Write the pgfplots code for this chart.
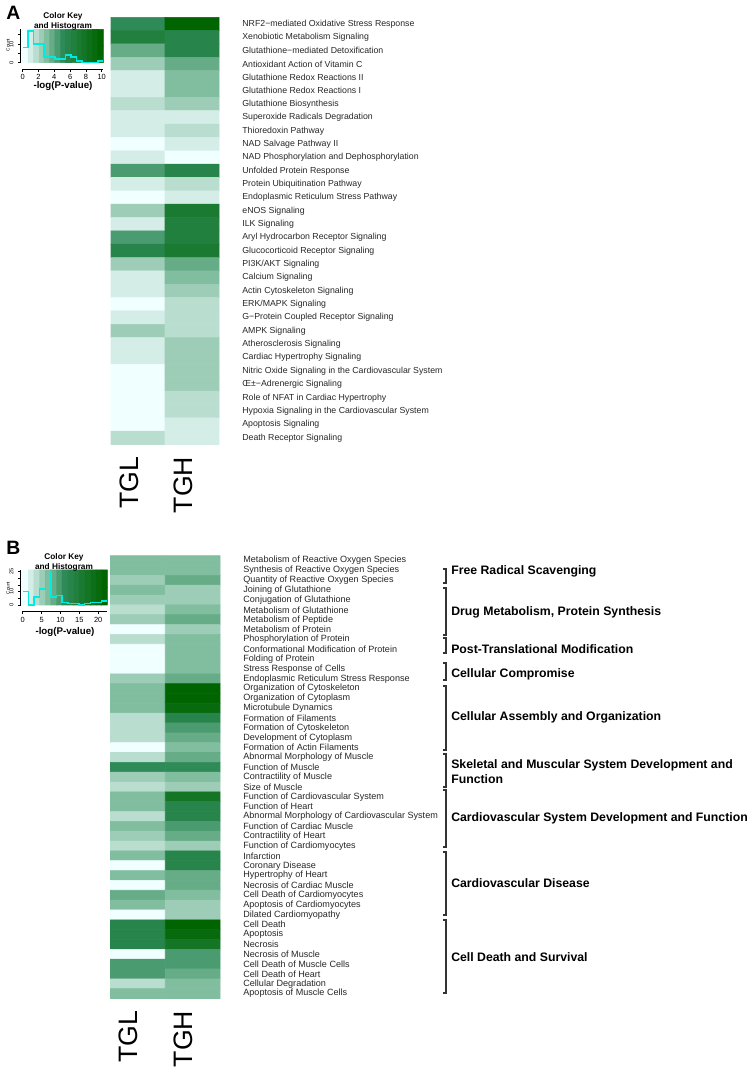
\documentclass[border=0pt]{standalone}
\usepackage{pgfplots}
\pgfplotsset{compat=1.18}
\usepackage{fontspec}
\setmainfont{Liberation Sans}
\definecolor{trace}{RGB}{0,236,226}
\pgfplotsset{
  colormap={ipa}{rgb255=(240,255,255) rgb255=(212,238,231) rgb255=(185,222,207) rgb255=(157,205,183) rgb255=(129,189,159) rgb255=(101,172,135) rgb255=(74,155,111) rgb255=(46,139,87) rgb255=(39,133,75) rgb255=(33,128,62) rgb255=(26,122,50) rgb255=(20,117,37) rgb255=(13,111,25) rgb255=(7,106,12) rgb255=(0,100,0)},
  heat/.style={matrix plot*, point meta=explicit, colormap name=ipa, colormap access=direct},
  keyax/.style={scale only axis, axis x line*=bottom, axis y line*=left,
    /pgf/number format/assume math mode=true,
    axis line style={line width=0.4pt,-}, tick align=outside, major tick length=2pt,
    tick style={line width=0.4pt,black},
    tick label style={font=\fontsize{5.6}{6}\selectfont},
    xticklabel style={yshift=1.2pt},
    yticklabel style={rotate=90, anchor=south, font=\fontsize{4.2}{5}\selectfont},
    clip=false},
  hmax/.style={scale only axis, y dir=reverse, axis line style={draw=none},
    major tick length=0pt, xtick=\empty, yticklabel pos=right, clip=false,
    yticklabel style={anchor=west, xshift=14pt, text=black!85}},
}
\begin{document}
\begin{tikzpicture}[x=0.75pt,y=0.75pt]
\path[use as bounding box] (0,0) rectangle (750,1068);
\tikzset{grp/.style={anchor=west, inner sep=0pt, font=\bfseries\fontsize{9.2}{11.25}\selectfont},
  col/.style={rotate=90, anchor=base east, inner sep=0pt, font=\fontsize{20}{20}\selectfont}}
% ---------- Panel A heatmap
\begin{axis}[hmax, at={(83.25pt,788.03pt)}, anchor=north west, width=81pt, height=320.4pt,
  xmin=-0.5, xmax=1.5, ymin=0.5, ymax=32.5, ytick={1,...,32},
  yticklabel style={font=\fontsize{6.57}{7}\selectfont},
  yticklabels={{NRF2−mediated Oxidative Stress Response},{Xenobiotic Metabolism Signaling},{Glutathione−mediated Detoxification},{Antioxidant Action of Vitamin C},{Glutathione Redox Reactions II},{Glutathione Redox Reactions I},{Glutathione Biosynthesis},{Superoxide Radicals Degradation},{Thioredoxin Pathway},{NAD Salvage Pathway II},{NAD Phosphorylation and Dephosphorylation},{Unfolded Protein Response},{Protein Ubiquitination Pathway},{Endoplasmic Reticulum Stress Pathway},{eNOS Signaling},{ILK Signaling},{Aryl Hydrocarbon Receptor Signaling},{Glucocorticoid Receptor Signaling},{PI3K/AKT Signaling},{Calcium Signaling},{Actin Cytoskeleton Signaling},{ERK/MAPK Signaling},{G−Protein Coupled Receptor Signaling},{AMPK Signaling},{Atherosclerosis Signaling},{Cardiac Hypertrophy Signaling},{Nitric Oxide Signaling in the Cardiovascular System},{Œ±−Adrenergic Signaling},{Role of NFAT in Cardiac Hypertrophy},{Hypoxia Signaling in the Cardiovascular System},{Apoptosis Signaling},{Death Receptor Signaling}}]
\addplot[heat, mesh/cols=2] table[meta=c] {
x y c
0 1 7
1 1 14
0 2 9
1 2 8
0 3 5
1 3 8
0 4 3
1 4 5
0 5 1
1 5 4
0 6 1
1 6 4
0 7 2
1 7 3
0 8 1
1 8 1
0 9 1
1 9 2
0 10 0
1 10 1
0 11 1
1 11 0
0 12 6
1 12 8
0 13 1
1 13 2
0 14 0
1 14 1
0 15 3
1 15 10
0 16 1
1 16 9
0 17 6
1 17 9
0 18 8
1 18 10
0 19 3
1 19 5
0 20 1
1 20 4
0 21 1
1 21 3
0 22 0
1 22 2
0 23 1
1 23 2
0 24 3
1 24 2
0 25 1
1 25 3
0 26 1
1 26 3
0 27 0
1 27 3
0 28 0
1 28 3
0 29 0
1 29 2
0 30 0
1 30 2
0 31 0
1 31 1
0 32 2
1 32 1
};
\node[col] at ([yshift=-9pt]axis cs:0,32.5) {TGL};
\node[col] at ([yshift=-9pt]axis cs:1,32.5) {TGH};
\end{axis}
% ---------- Panel A key
\begin{axis}[keyax, at={(17.03pt,779.03pt)}, anchor=north west, width=60.45pt, height=25.05pt,
  xmin=0, xmax=10.2, ymin=0, ymax=17.9, axis x line shift=4.7pt, axis y line shift=1.5pt,
  xtick={0,2,...,10}, ytick={0,5,10,15}, yticklabels={0,,10,}]
\addplot[heat, mesh/cols=15] table[meta=c] {
x y c
0.34 4.475 0
1.02 4.475 1
1.70 4.475 2
2.38 4.475 3
3.06 4.475 4
3.74 4.475 5
4.42 4.475 6
5.10 4.475 7
5.78 4.475 8
6.46 4.475 9
7.14 4.475 10
7.82 4.475 11
8.50 4.475 12
9.18 4.475 13
9.86 4.475 14
0.34 13.425 0
1.02 13.425 1
1.70 13.425 2
2.38 13.425 3
3.06 13.425 4
3.74 13.425 5
4.42 13.425 6
5.10 13.425 7
5.78 13.425 8
6.46 13.425 9
7.14 13.425 10
7.82 13.425 11
8.50 13.425 12
9.18 13.425 13
9.86 13.425 14
};
\addplot[const plot, color=trace, line width=1.1pt] coordinates {(0,8)(0.68,17)(1.36,10)(2.04,10)(2.72,3)(3.4,3)(4.08,2)(4.76,2)(5.44,4)(6.12,3)(6.8,1)(7.48,0)(8.16,0)(8.84,0)(9.52,1)(10.2,1)};
\end{axis}
\node[font=\bfseries\fontsize{6.2}{7}\selectfont] at (63,{1068-16}) {Color Key};
\node[font=\bfseries\fontsize{6.2}{7}\selectfont] at (63,{1068-26}) {and Histogram};
\node[font=\bfseries\fontsize{7.3}{8}\selectfont] at (63,{1068-86.5}) {-log(P-value)};
\node[rotate=90, font=\fontsize{3.5}{4}\selectfont] at (8,{1068-45}) {Count};
\node[anchor=base west, inner sep=0pt, font=\bfseries\fontsize{14.5}{15}\selectfont] at (6,{1068-20}) {A};
% ---------- Panel B heatmap
\begin{axis}[hmax, at={(82.875pt,384.225pt)}, anchor=north west, width=82.125pt, height=332.1pt,
  xmin=-0.5, xmax=1.5, ymin=0.5, ymax=45.5, ytick={1,...,45},
  yticklabel style={font=\fontsize{6.8}{7}\selectfont},
  yticklabels={{Metabolism of Reactive Oxygen Species},{Synthesis of Reactive Oxygen Species},{Quantity of Reactive Oxygen Species},{Joining of Glutathione},{Conjugation of Glutathione},{Metabolism of Glutathione},{Metabolism of Peptide},{Metabolism of Protein},{Phosphorylation of Protein},{Conformational Modification of Protein},{Folding of Protein},{Stress Response of Cells},{Endoplasmic Reticulum Stress Response},{Organization of Cytoskeleton},{Organization of Cytoplasm},{Microtubule Dynamics},{Formation of Filaments},{Formation of Cytoskeleton},{Development of Cytoplasm},{Formation of Actin Filaments},{Abnormal Morphology of Muscle},{Function of Muscle},{Contractility of Muscle},{Size of Muscle},{Function of Cardiovascular System},{Function of Heart},{Abnormal Morphology of Cardiovascular System},{Function of Cardiac Muscle},{Contractility of Heart},{Function of Cardiomyocytes},{Infarction},{Coronary Disease},{Hypertrophy of Heart},{Necrosis of Cardiac Muscle},{Cell Death of Cardiomyocytes},{Apoptosis of Cardiomyocytes},{Dilated Cardiomyopathy},{Cell Death},{Apoptosis},{Necrosis},{Necrosis of Muscle},{Cell Death of Muscle Cells},{Cell Death of Heart},{Cellular Degradation},{Apoptosis of Muscle Cells}}]
\addplot[heat, mesh/cols=2] table[meta=c] {
x y c
0 1 4
1 1 4
0 2 4
1 2 4
0 3 3
1 3 5
0 4 4
1 4 3
0 5 3
1 5 3
0 6 2
1 6 4
0 7 3
1 7 5
0 8 0
1 8 3
0 9 2
1 9 4
0 10 0
1 10 4
0 11 0
1 11 4
0 12 0
1 12 4
0 13 3
1 13 5
0 14 4
1 14 14
0 15 4
1 15 14
0 16 4
1 16 13
0 17 2
1 17 8
0 18 2
1 18 6
0 19 2
1 19 5
0 20 0
1 20 4
0 21 2
1 21 5
0 22 7
1 22 7
0 23 3
1 23 4
0 24 2
1 24 3
0 25 4
1 25 11
0 26 4
1 26 8
0 27 2
1 27 8
0 28 4
1 28 6
0 29 3
1 29 5
0 30 2
1 30 3
0 31 4
1 31 8
0 32 0
1 32 8
0 33 4
1 33 5
0 34 0
1 34 5
0 35 5
1 35 4
0 36 4
1 36 3
0 37 0
1 37 3
0 38 8
1 38 14
0 39 8
1 39 13
0 40 8
1 40 11
0 41 0
1 41 6
0 42 6
1 42 6
0 43 6
1 43 5
0 44 2
1 44 4
0 45 4
1 45 4
};
\node[col] at ([yshift=-9pt]axis cs:0,45.5) {TGL};
\node[col] at ([yshift=-9pt]axis cs:1,45.5) {TGH};
\end{axis}
% ---------- Panel B key
\begin{axis}[keyax, at={(17.03pt,373.5pt)}, anchor=north west, width=63.45pt, height=26.25pt,
  xmin=0, xmax=22.4, ymin=0, ymax=26.3, axis x line shift=4.7pt, axis y line shift=1.5pt,
  xtick={0,5,...,20}, ytick={0,5,...,25}, yticklabels={0,,10,,,25}]
\addplot[heat, mesh/cols=15] table[meta=c] {
x y c
0.747 6.575 0
2.240 6.575 1
3.733 6.575 2
5.227 6.575 3
6.720 6.575 4
8.213 6.575 5
9.707 6.575 6
11.200 6.575 7
12.693 6.575 8
14.187 6.575 9
15.680 6.575 10
17.173 6.575 11
18.667 6.575 12
20.160 6.575 13
21.653 6.575 14
0.747 19.725 0
2.240 19.725 1
3.733 19.725 2
5.227 19.725 3
6.720 19.725 4
8.213 19.725 5
9.707 19.725 6
11.200 19.725 7
12.693 19.725 8
14.187 19.725 9
15.680 19.725 10
17.173 19.725 11
18.667 19.725 12
20.160 19.725 13
21.653 19.725 14
};
\addplot[const plot, color=trace, line width=1.1pt] coordinates {(0,10)(1.493,0)(2.987,6)(4.48,12)(5.973,25)(7.467,6)(8.96,7)(10.453,2)(11.947,1)(13.44,1)(14.933,0)(16.427,1)(17.92,2)(19.413,2)(20.907,3)(22.4,3)};
\end{axis}
\node[font=\bfseries\fontsize{6.2}{7}\selectfont] at (64,{1068-557.3}) {Color Key};
\node[font=\bfseries\fontsize{6.2}{7}\selectfont] at (64,{1068-567.3}) {and Histogram};
\node[font=\bfseries\fontsize{7.3}{8}\selectfont] at (65,{1068-632}) {-log(P-value)};
\node[rotate=90, font=\fontsize{3.5}{4}\selectfont] at (8,{1068-588}) {Count};
\node[anchor=base west, inner sep=0pt, font=\bfseries\fontsize{14.5}{15}\selectfont] at (6,{1068-555}) {B};
% ---------- brackets and group labels
\foreach \t/\b in {569/583, 588/635, 638/653, 663/680, 686/750, 754/787, 790/847, 852/915, 920/993}{
  \draw[line width=0.9pt, black!80] (443,{1068-\t}) -- (446,{1068-\t}) -- (446,{1068-\b}) -- (443,{1068-\b});
}
\node[grp] at (451,{1068-571.7}) {Free Radical Scavenging};
\node[grp] at (451,{1068-612}) {Drug Metabolism, Protein Synthesis};
\node[grp] at (451,{1068-649}) {Post-Translational Modification};
\node[grp] at (451,{1068-674}) {Cellular Compromise};
\node[grp] at (451,{1068-717.7}) {Cellular Assembly and Organization};
\node[grp, align=left] at (451,{1068-771.5}) {Skeletal and Muscular System Development and\\Function};
\node[grp] at (451,{1068-818}) {Cardiovascular System Development and Function};
\node[grp] at (451,{1068-882.7}) {Cardiovascular Disease};
\node[grp] at (451,{1068-956.7}) {Cell Death and Survival};
\end{tikzpicture}
\end{document}
